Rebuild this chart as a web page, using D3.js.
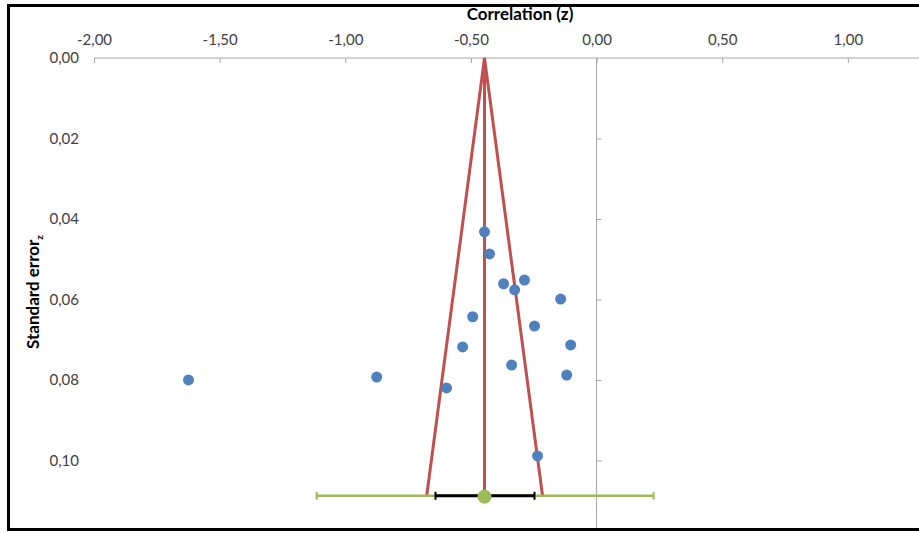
<!DOCTYPE html>
<html>
<head>
<meta charset="utf-8">
<script src="https://cdn.jsdelivr.net/npm/d3@7"></script>
<style>
  body { margin: 0; background: #fff; }
  text { font-family: Lato, "Open Sans", sans-serif; }
</style>
</head>
<body>
<div id="chart"></div>
<script>
// studies: Fisher z and its standard error
var studyZ  = [-0.446, -0.426, -0.370, -0.287, -0.326, -0.143, -0.493, -0.247, -0.103, -0.533, -0.338, -0.119, -0.875, -1.624, -0.597, -0.235];
var studySE = [0.0432, 0.0487, 0.0561, 0.0552, 0.0576, 0.0599, 0.0643, 0.0666, 0.0713, 0.0718, 0.0763, 0.0788, 0.0793, 0.0800, 0.0820, 0.0989];

// funnel: apex and the two bottom corners
var funnelZ  = [-0.676, -0.446, -0.215];
var funnelSE = [0.1088, 0, 0.1088];
var pooledZ = -0.446;
var bottomSE = 0.1088;

// pooled estimate intervals
var ciLow = -0.641, ciHigh = -0.247;        // confidence interval (black)
var piLow = -1.114, piHigh = 0.227;         // prediction interval (green)

var xTicks = [-2, -1.5, -1, -0.5, 0, 0.5, 1];
var yTicks = [0, 0.02, 0.04, 0.06, 0.08, 0.10];

var width = 919, height = 533;

var svg = d3.select('#chart').append('svg')
    .attr('width', width)
    .attr('height', height);

var locale = d3.formatLocale({decimal: ',', thousands: '.', grouping: [3], currency: ['', ''], minus: '-'});
var fmt = locale.format('.2f');

var x = d3.scaleLinear().domain([-2, 1.5]).range([94, 973.5]);
var y = d3.scaleLinear().domain([0, 0.1168]).range([58, 528]);

// frame
svg.append('rect')
    .attr('x', 8.5).attr('y', 5.5)
    .attr('width', 940).attr('height', 524)
    .attr('fill', 'none')
    .attr('stroke', '#000')
    .attr('stroke-width', 3);

// x axis along the top (se = 0)
var xAxis = svg.append('g')
    .attr('transform', 'translate(0,' + y(0) + ')')
    .call(d3.axisTop(x).tickValues(xTicks).tickSize(0).tickPadding(13).tickFormat(fmt));
xAxis.select('.domain').attr('stroke', '#a6a6a6').attr('d', 'M' + x(-2) + ',0H' + x(1.5));
xAxis.selectAll('.tick line').attr('y2', 5).attr('stroke', '#a6a6a6');
xAxis.selectAll('.tick text').attr('font-size', 15).attr('fill', '#404040');

// y axis at z = 0
var yAxis = svg.append('g')
    .attr('transform', 'translate(' + x(0) + ',0)')
    .call(d3.axisRight(y).tickValues(yTicks.slice(1)).tickSize(5).tickFormat(''));
yAxis.select('.domain').attr('stroke', '#a6a6a6').attr('d', 'M0,' + y(0) + 'V528');
yAxis.selectAll('.tick line').attr('stroke', '#a6a6a6');

svg.append('g').selectAll('text')
    .data(yTicks).enter().append('text')
    .attr('x', 79)
    .attr('y', function(d) { return y(d); })
    .attr('dy', '0.35em')
    .attr('text-anchor', 'end')
    .attr('font-size', 15)
    .attr('fill', '#404040')
    .text(function(d) { return fmt(d); });

// axis titles
svg.append('text')
    .attr('x', 520).attr('y', 20)
    .attr('text-anchor', 'middle')
    .attr('font-size', 17).attr('font-weight', 'bold')
    .text('Correlation (z)');

var yTitle = svg.append('text')
    .attr('transform', 'translate(39,292) rotate(-90)')
    .attr('text-anchor', 'middle')
    .attr('font-size', 17).attr('font-weight', 'bold');
yTitle.append('tspan').text('Standard error');
yTitle.append('tspan').attr('font-size', 10).attr('dy', 4).text('z');

// funnel
var line = d3.line()
    .x(function(d) { return x(d[0]); })
    .y(function(d) { return y(d[1]); });

svg.append('path')
    .datum(d3.zip(funnelZ, funnelSE))
    .attr('d', line)
    .attr('fill', 'none')
    .attr('stroke', '#c0504d')
    .attr('stroke-width', 3)
    .attr('stroke-linejoin', 'miter');

svg.append('path')
    .datum([[pooledZ, 0], [pooledZ, bottomSE]])
    .attr('d', line)
    .attr('stroke', '#c0504d')
    .attr('stroke-width', 3);

// intervals
function interval(lo, hi, color, w) {
  var g = svg.append('g').attr('stroke', color).attr('stroke-width', w);
  var yy = y(bottomSE);
  g.append('line').attr('x1', x(lo)).attr('x2', x(hi)).attr('y1', yy).attr('y2', yy);
  [lo, hi].forEach(function(v) {
    g.append('line').attr('x1', x(v)).attr('x2', x(v)).attr('y1', yy - 4).attr('y2', yy + 4).attr('stroke-width', 2);
  });
}
interval(piLow, piHigh, '#9bbb59', 2.5);
interval(ciLow, ciHigh, '#000', 3);

// studies
svg.append('g').selectAll('circle')
    .data(d3.zip(studyZ, studySE)).enter().append('circle')
    .attr('cx', function(d) { return x(d[0]); })
    .attr('cy', function(d) { return y(d[1]); })
    .attr('r', 5.5)
    .attr('fill', '#4f81bd');

svg.append('circle')
    .attr('cx', x(pooledZ)).attr('cy', y(bottomSE) + 1)
    .attr('r', 7)
    .attr('fill', '#9bbb59');
</script>
</body>
</html>
